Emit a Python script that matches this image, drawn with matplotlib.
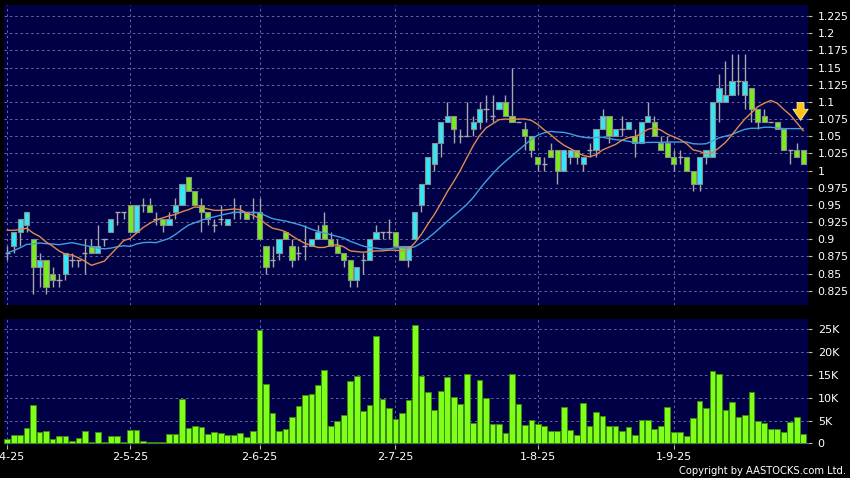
import numpy as np
import pandas as pd
import matplotlib
matplotlib.use("Agg")
import matplotlib.pyplot as plt
from matplotlib.ticker import FixedLocator, FuncFormatter

# ---------------- data ----------------
opens = [0.88, 0.89, 0.91, 0.92, 0.90, 0.86, 0.87, 0.85, 0.84, 0.85,
         0.87, 0.87, 0.88, 0.89, 0.88, 0.90, 0.91, 0.94, 0.94, 0.95,
         0.91, 0.95, 0.95, 0.93, 0.93, 0.92, 0.94, 0.95, 0.99, 0.97,
         0.95, 0.94, 0.92, 0.93, 0.92, 0.94, 0.94, 0.94, 0.94, 0.94,
         0.89, 0.87, 0.88, 0.91, 0.89, 0.88, 0.89, 0.89, 0.90, 0.92,
         0.90, 0.89, 0.88, 0.87, 0.84, 0.87, 0.87, 0.90, 0.91, 0.91,
         0.91, 0.89, 0.87, 0.90, 0.95, 0.98, 1.01, 1.04, 1.07, 1.08,
         1.05, 1.05, 1.06, 1.07, 1.09, 1.08, 1.09, 1.10, 1.08, 1.07,
         1.06, 1.05, 1.02, 1.01, 1.03, 1.03, 1.00, 1.02, 1.03, 1.01,
         1.03, 1.03, 1.06, 1.08, 1.05, 1.06, 1.06, 1.05, 1.04, 1.07,
         1.07, 1.04, 1.04, 1.02, 1.02, 1.02, 1.00, 0.98, 1.02, 1.02,
         1.10, 1.10, 1.11, 1.13, 1.11, 1.12, 1.09, 1.08, 1.07, 1.07,
         1.06, 1.03, 1.03, 1.03]
highs = [0.89, 0.91, 0.93, 0.94, 0.90, 0.88, 0.87, 0.86, 0.85, 0.88,
         0.88, 0.87, 0.90, 0.90, 0.92, 0.90, 0.93, 0.94, 0.94, 0.95,
         0.95, 0.96, 0.96, 0.94, 0.93, 0.94, 0.96, 0.98, 0.99, 0.97,
         0.96, 0.94, 0.93, 0.95, 0.93, 0.96, 0.95, 0.94, 0.96, 0.96,
         0.89, 0.89, 0.90, 0.91, 0.90, 0.89, 0.92, 0.90, 0.92, 0.94,
         0.91, 0.90, 0.88, 0.87, 0.86, 0.88, 0.90, 0.92, 0.91, 0.93,
         0.91, 0.89, 0.89, 0.94, 0.98, 1.02, 1.04, 1.07, 1.10, 1.08,
         1.06, 1.10, 1.08, 1.10, 1.11, 1.11, 1.10, 1.11, 1.15, 1.07,
         1.07, 1.05, 1.02, 1.02, 1.04, 1.03, 1.03, 1.03, 1.03, 1.02,
         1.04, 1.06, 1.09, 1.08, 1.06, 1.08, 1.07, 1.06, 1.07, 1.10,
         1.08, 1.05, 1.05, 1.03, 1.03, 1.02, 1.00, 1.02, 1.03, 1.10,
         1.14, 1.16, 1.17, 1.17, 1.17, 1.12, 1.09, 1.09, 1.07, 1.07,
         1.06, 1.03, 1.04, 1.03]
lows = [0.87, 0.88, 0.89, 0.91, 0.82, 0.83, 0.82, 0.83, 0.83, 0.84,
        0.86, 0.86, 0.85, 0.88, 0.88, 0.89, 0.91, 0.92, 0.93, 0.91,
        0.91, 0.94, 0.94, 0.92, 0.91, 0.92, 0.93, 0.95, 0.97, 0.95,
        0.91, 0.92, 0.91, 0.92, 0.92, 0.93, 0.93, 0.93, 0.93, 0.90,
        0.85, 0.86, 0.87, 0.90, 0.86, 0.87, 0.87, 0.89, 0.90, 0.90,
        0.89, 0.88, 0.86, 0.83, 0.83, 0.85, 0.87, 0.90, 0.90, 0.90,
        0.89, 0.87, 0.86, 0.90, 0.94, 0.98, 1.00, 1.02, 1.07, 1.04,
        1.04, 1.05, 1.05, 1.06, 1.07, 1.07, 1.09, 1.08, 1.07, 1.07,
        1.03, 1.02, 1.00, 1.00, 1.02, 0.98, 1.00, 1.01, 1.01, 1.00,
        1.02, 1.02, 1.06, 1.04, 1.05, 1.05, 1.06, 1.02, 1.04, 1.07,
        1.05, 1.03, 1.02, 1.00, 1.01, 1.00, 0.97, 0.97, 1.01, 1.02,
        1.07, 1.10, 1.11, 1.11, 1.09, 1.07, 1.06, 1.07, 1.07, 1.06,
        1.03, 1.01, 1.02, 1.01]
closes = [0.88, 0.91, 0.93, 0.94, 0.86, 0.87, 0.83, 0.84, 0.84, 0.88,
          0.87, 0.87, 0.88, 0.88, 0.89, 0.90, 0.93, 0.94, 0.94, 0.91,
          0.95, 0.95, 0.94, 0.93, 0.92, 0.93, 0.95, 0.98, 0.97, 0.95,
          0.94, 0.93, 0.92, 0.93, 0.93, 0.94, 0.94, 0.93, 0.94, 0.90,
          0.86, 0.87, 0.90, 0.90, 0.87, 0.88, 0.89, 0.90, 0.91, 0.90,
          0.89, 0.88, 0.87, 0.84, 0.86, 0.87, 0.90, 0.91, 0.91, 0.91,
          0.89, 0.87, 0.89, 0.94, 0.98, 1.02, 1.04, 1.07, 1.08, 1.06,
          1.05, 1.05, 1.07, 1.09, 1.09, 1.08, 1.10, 1.08, 1.07, 1.07,
          1.05, 1.03, 1.01, 1.01, 1.02, 1.00, 1.03, 1.03, 1.02, 1.02,
          1.03, 1.06, 1.08, 1.05, 1.06, 1.06, 1.07, 1.04, 1.07, 1.08,
          1.05, 1.03, 1.02, 1.01, 1.02, 1.00, 0.98, 1.02, 1.03, 1.10,
          1.12, 1.11, 1.13, 1.13, 1.13, 1.09, 1.07, 1.07, 1.07, 1.06,
          1.03, 1.03, 1.02, 1.01]
# closes before the window (needed to start the moving averages)
prior_closes = [0.84, 0.85, 0.84, 0.85, 0.84, 0.85, 0.85, 0.86, 0.85, 0.84,
                0.91, 0.92, 0.92, 0.93, 0.92, 0.91, 0.90, 0.91, 0.93]
volumes_k = [1.0, 1.8, 1.8, 3.4, 8.3, 2.4, 2.8, 0.9, 1.6, 1.6,
             0.5, 1.1, 2.7, 0.3, 2.5, 0.3, 1.7, 1.7, 0.3, 2.9,
             2.9, 0.5, 0.4, 0.2, 0.3, 2.0, 2.1, 9.6, 3.4, 3.9,
             3.5, 2.0, 2.4, 2.3, 1.9, 1.9, 2.2, 1.5, 2.8, 24.7,
             13.0, 6.7, 2.8, 3.1, 5.8, 8.2, 10.6, 10.9, 12.7, 16.0,
             3.7, 5.0, 6.3, 13.6, 14.8, 7.0, 8.5, 23.4, 9.8, 7.7,
             5.3, 6.7, 9.4, 25.9, 14.7, 11.3, 7.4, 11.4, 14.5, 10.1,
             8.6, 15.2, 4.4, 13.9, 9.9, 4.2, 4.2, 2.3, 15.1, 8.7,
             4.0, 5.2, 4.2, 3.7, 2.7, 2.8, 8.0, 2.9, 1.8, 8.9,
             3.9, 6.9, 6.0, 3.8, 3.8, 2.7, 3.6, 1.8, 5.2, 5.2,
             3.1, 3.9, 7.9, 2.4, 2.6, 1.7, 5.6, 9.3, 7.7, 15.8,
             15.2, 7.3, 9.0, 5.7, 6.2, 11.2, 4.9, 4.5, 3.1, 3.1,
             2.6, 4.7, 5.7, 2.1]
tick_idx = [0, 19, 39, 60, 82, 103]
tick_labels = ["1-4-25", "2-5-25", "2-6-25", "2-7-25", "1-8-25", "1-9-25"]
price_ticks = [0.825, 0.85, 0.875, 0.9, 0.925, 0.95, 0.975, 1.0, 1.025,
               1.05, 1.075, 1.1, 1.125, 1.15, 1.175, 1.2, 1.225]
vol_ticks_k = [0, 5, 10, 15, 20, 25]

# ---------------- styling ----------------
W, H = 850, 478
BG = "#000046"
GRID = "#6a6a9c"
UP = "#30e8f8"
DOWN = "#78ec1c"
EDGE = "#8c8c8c"
WICK = "#a8a8a8"
VOL = "#80ff1a"
VOL_EDGE = "#3a8a10"
TXT = "#ffffff"

fig = plt.figure(figsize=(W / 100, H / 100), dpi=100, facecolor="black")
ax = fig.add_axes([4 / W, 1 - 305 / H, 804 / W, 300 / H], facecolor=BG)
axv = fig.add_axes([4 / W, 1 - 445 / H, 804 / W, 126 / H], facecolor=BG)

n = len(closes)
x = np.arange(n)
o = np.array(opens); hi = np.array(highs); lo = np.array(lows); c = np.array(closes)

# wicks
ax.vlines(x, lo, hi, color=WICK, lw=1.0, zorder=3)
# bodies
up = c > o
dn = c < o
dj = c == o
bw = 0.8
ax.bar(x[up], (c - o)[up], bottom=o[up], width=bw, color=UP, edgecolor=EDGE, lw=0.8, zorder=4)
ax.bar(x[dn], (o - c)[dn], bottom=c[dn], width=bw, color=DOWN, edgecolor=EDGE, lw=0.8, zorder=4)
ax.hlines(c[dj], x[dj] - bw / 2, x[dj] + bw / 2, color=WICK, lw=1.0, zorder=4)

# moving averages
allc = pd.Series(prior_closes + closes)
ma10 = allc.rolling(10).mean().iloc[len(prior_closes):].to_numpy()
ma20 = allc.rolling(20).mean().iloc[len(prior_closes):].to_numpy()
ax.plot(x, ma20, color="#3fa0e0", lw=1.0, zorder=5)
ax.plot(x, ma10, color="#e08a50", lw=1.0, zorder=5)

# yellow arrow marker at latest bar
ax.annotate("", xy=(n - 1.4, ma20[-1] + 0.008), xytext=(n - 1.4, ma20[-1] + 0.042),
            arrowprops=dict(arrowstyle="simple,head_width=1.1,head_length=0.8,tail_width=0.5",
                            fc="#ffc21a", ec="#fff2a0", lw=0.6), zorder=6)

xlim = (-0.5, n - 0.25)
ax.set_xlim(*xlim)
ax.set_ylim(0.8042, 1.241)
axv.set_xlim(*xlim)
axv.set_ylim(-0.35, 27.19)

# volume bars
axv.bar(x, volumes_k, width=0.88, color=VOL, edgecolor=VOL_EDGE, lw=0.7, zorder=3)

for a in (ax, axv):
    for s in a.spines.values():
        s.set_visible(False)
    a.yaxis.tick_right()
    a.xaxis.set_major_locator(FixedLocator(tick_idx))
    a.grid(True, color=GRID, linestyle=(0, (2.5, 3)), lw=0.7, zorder=1)
    a.set_axisbelow(True)
    a.tick_params(axis="y", colors="#bbbbbb", labelcolor=TXT, length=3, pad=4, width=0.8)
    a.tick_params(axis="x", colors="#bbbbbb", labelcolor=TXT, length=3, pad=2, width=0.8)

ax.set_yticks(price_ticks)
ax.yaxis.set_major_formatter(FuncFormatter(lambda v, p: "{:g}".format(round(v, 3))))
ax.tick_params(axis="y", labelsize=7.8)
ax.tick_params(axis="x", length=0, labelbottom=False)

axv.set_yticks(vol_ticks_k)
axv.yaxis.set_major_formatter(FuncFormatter(lambda v, p: "0" if v == 0 else "{:g}K".format(v)))
axv.tick_params(axis="y", labelsize=8)
axv.set_xticklabels(tick_labels)
axv.tick_params(axis="x", labelsize=8)

fig.text(846 / W, 1 - 471 / H, "Copyright by AASTOCKS.com Ltd.", color=TXT,
         fontsize=7.2, ha="right", va="center")

fig.savefig("out.png", dpi=100, facecolor="black")
